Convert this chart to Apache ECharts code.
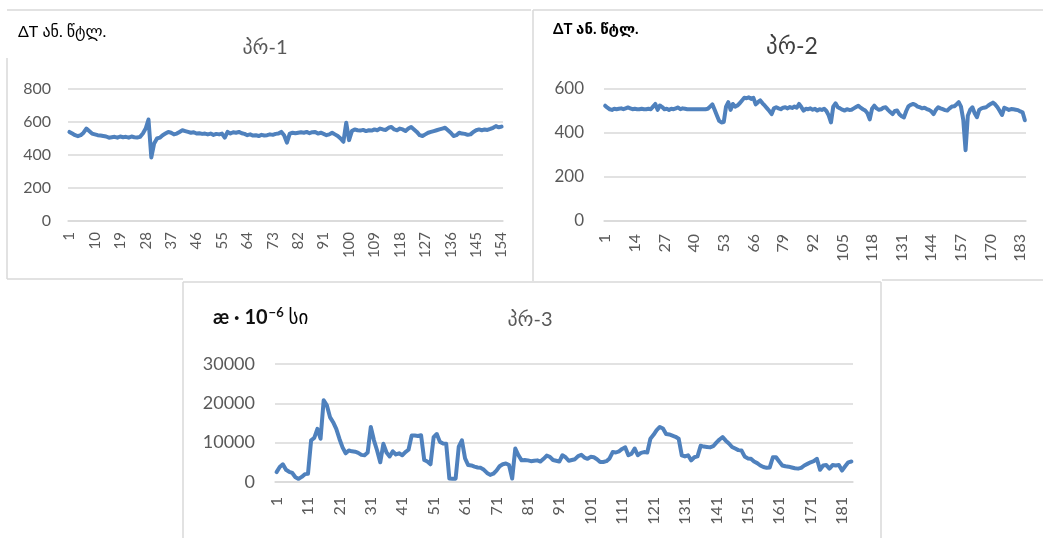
<!DOCTYPE html>
<html><head><meta charset="utf-8">
<script src="https://cdn.jsdelivr.net/npm/echarts@6/dist/echarts.min.js"></script>
<style>html,body{margin:0;padding:0;background:#fff}#c{width:1043px;height:538px}</style>
</head><body><div id="c"></div>
<script>
// პრ-1 : ΔT (154 points)
const valuesPr1 = [
540,530,520,514,520,535,560,545,530,525,
520,518,515,512,505,508,510,505,512,508,
510,505,512,508,506,510,530,560,615,385,
470,500,505,520,530,540,535,525,530,540,
550,545,540,535,538,530,532,528,530,525,
530,522,528,525,530,505,540,530,538,535,
540,532,528,520,525,518,520,515,522,518,
520,525,522,528,530,540,520,475,530,535,
532,535,538,535,540,532,538,540,530,535,
528,520,525,535,525,515,500,480,595,490,
545,555,550,548,552,545,550,548,555,550,
560,555,552,565,570,555,550,560,555,545,
560,570,555,540,520,515,525,535,540,545,
550,555,560,565,550,535,515,520,535,530,
528,522,525,540,550,555,550,555,552,558,
565,575,568,572
];
// პრ-2 : ΔT (185 points)
const valuesPr2 = [
524,515,508,505,510,508,510,512,508,512,
516,512,508,510,508,508,510,508,508,510,
508,520,532,505,525,518,508,510,505,510,
508,512,516,508,512,510,508,508,508,508,
508,508,508,508,508,510,520,530,506,480,
455,448,450,520,540,505,532,520,525,535,
548,560,558,562,555,560,530,540,548,535,
524,512,500,486,512,517,512,508,515,517,
512,518,514,520,515,532,518,502,510,508,
512,506,510,502,508,505,510,500,480,448,
520,535,517,512,506,502,508,505,506,512,
518,524,515,508,502,490,462,510,524,512,
506,508,515,517,505,495,486,500,502,485,
476,471,500,522,528,532,528,520,517,512,
515,509,505,498,486,505,517,512,508,504,
502,512,520,521,530,540,520,460,322,479,
505,517,490,472,505,512,515,517,525,532,
538,530,517,500,482,515,510,505,509,508,
506,504,498,494,458
];
// პრ-3 : æ·10⁻⁶ (184 points)
const valuesPr3 = [
2500,3800,4500,3100,2600,2300,1200,800,1300,2000,
2100,10600,11200,13500,11000,20800,19500,16500,15200,13500,
11000,8800,7300,8000,7800,7700,7400,6900,6800,7500,
14000,10600,8000,5000,9700,7500,6500,7800,7000,7300,
6800,7600,8200,11800,11800,11700,11900,5600,5200,4500,
11400,12200,10200,9800,9700,900,850,850,9000,10600,
6000,4300,4200,3900,3700,3600,3100,2300,1800,2100,
2900,4000,4500,4700,4300,900,8500,6800,5500,5600,
5500,5300,5400,5500,5200,5900,6700,6400,5600,5400,
5200,6800,6300,5400,5600,5800,6600,6900,6200,5900,
6400,6300,5800,5100,5100,5300,6000,7600,7500,7800,
8400,8800,6800,7200,8500,6800,7400,7600,7500,11000,
12000,13200,14000,13600,12200,12100,11800,11500,11000,6800,
6500,6800,5500,6300,6500,9200,9000,8900,8800,9100,
10000,10800,11400,10500,9800,8900,8500,8100,8000,6500,
6000,5900,5200,4800,4200,3800,3600,3700,6300,6300,
5200,4200,4000,3900,3700,3500,3400,3600,4200,4600,
5000,5300,5900,3100,4200,4300,3400,4300,4200,4300,
2900,4000,5000,5200
];
const categoriesPr1 = valuesPr1.map((v, i) => String(i + 1));
const categoriesPr2 = valuesPr2.map((v, i) => String(i + 1));
const categoriesPr3 = valuesPr3.map((v, i) => String(i + 1));
const yRangePr1 = [0, 800, 200];
const yRangePr2 = [0, 600, 200];
const yRangePr3 = [0, 30000, 10000];
const titles = ['პრ-1', 'პრ-2', 'პრ-3'];
const unitLabel = 'ΔT ან. წტლ.';

const LINE = '#4f81bd', GRID = '#d9d9d9', LABEL = '#595959';
const FONT = 'Lato, "DejaVu Sans", sans-serif';

function xAx(idx, cats, interval, fs, margin) {
  return {
    type: 'category', gridIndex: idx, data: cats, boundaryGap: true,
    axisTick: { show: false },
    axisLine: { lineStyle: { color: GRID, width: 1.5 } },
    axisLabel: { interval: interval, rotate: 90, color: LABEL, fontSize: fs, fontFamily: FONT, margin: margin }
  };
}
function yAx(idx, r, fs, margin) {
  return {
    type: 'value', gridIndex: idx, min: r[0], max: r[1], interval: r[2],
    axisLine: { show: false }, axisTick: { show: false },
    splitLine: { lineStyle: { color: GRID, width: 1.5 } },
    axisLabel: { color: LABEL, fontSize: fs, fontFamily: FONT, margin: margin, formatter: v => String(v) }
  };
}
function ser(idx, data) {
  return {
    type: 'line', xAxisIndex: idx, yAxisIndex: idx, data: data,
    showSymbol: false, animation: false,
    lineStyle: { color: LINE, width: 4, join: 'round', cap: 'round' }
  };
}

const chart = echarts.init(document.getElementById('c'));
const frame = { stroke: '#d9d9d9', lineWidth: 1.5 };
chart.setOption({
  backgroundColor: '#fff',
  animation: false,
  grid: [
    { left: 68, top: 89, width: 435, height: 132 },
    { left: 604, top: 89, width: 422, height: 132 },
    { left: 275, top: 364, width: 578, height: 118 }
  ],
  xAxis: [
    xAx(0, categoriesPr1, 8, 15, 11),
    xAx(1, categoriesPr2, 12, 16, 13),
    xAx(2, categoriesPr3, 9, 16, 15)
  ],
  yAxis: [
    yAx(0, yRangePr1, 16, 17),
    yAx(1, yRangePr2, 17, 20),
    yAx(2, yRangePr3, 18, 20)
  ],
  series: [ser(0, valuesPr1), ser(1, valuesPr2), ser(2, valuesPr3)],
  graphic: [
    { type: 'line', shape: { x1: 7, y1: 10, x2: 531, y2: 10 }, style: frame, silent: true },
    { type: 'line', shape: { x1: 7, y1: 58, x2: 7, y2: 279 }, style: frame, silent: true },
    { type: 'line', shape: { x1: 7, y1: 279, x2: 183, y2: 279 }, style: frame, silent: true },
    { type: 'line', shape: { x1: 533, y1: 10, x2: 1043, y2: 10 }, style: frame, silent: true },
    { type: 'line', shape: { x1: 533, y1: 10, x2: 533, y2: 281 }, style: frame, silent: true },
    { type: 'line', shape: { x1: 882, y1: 280, x2: 1043, y2: 280 }, style: frame, silent: true },
    { type: 'line', shape: { x1: 183, y1: 282, x2: 881, y2: 282 }, style: frame, silent: true },
    { type: 'line', shape: { x1: 183, y1: 282, x2: 183, y2: 538 }, style: frame, silent: true },
    { type: 'line', shape: { x1: 881, y1: 282, x2: 881, y2: 538 }, style: frame, silent: true },
    { type: 'text', left: 18, top: 24, style: { text: unitLabel, fill: '#000', font: '16px ' + FONT } },
    { type: 'text', left: 553, top: 22, style: { text: unitLabel, fill: '#000', font: 'bold 15px ' + FONT } },
    { type: 'text', x: 265, y: 48, style: { text: titles[0], fill: LABEL, font: '20px ' + FONT, align: 'center', verticalAlign: 'middle' } },
    { type: 'text', x: 792, y: 47, style: { text: titles[1], fill: '#404040', font: '23px ' + FONT, align: 'center', verticalAlign: 'middle' } },
    { type: 'text', x: 530, y: 320, style: { text: titles[2], fill: LABEL, font: '20px ' + FONT, align: 'center', verticalAlign: 'middle' } },
    { type: 'text', x: 213, y: 318, style: {
        text: '{b|æ · 10}{s|−6}{n| სი}', verticalAlign: 'middle',
        rich: {
          b: { fontSize: 20, fontWeight: 'bold', fill: '#111', fontFamily: FONT },
          s: { fontSize: 13, fontWeight: 'bold', fill: '#111', fontFamily: FONT, verticalAlign: 'top', padding: [0, 0, 10, 1] },
          n: { fontSize: 19, fill: '#000', fontFamily: FONT }
        }
    } }
  ]
});
</script>
</body></html>
